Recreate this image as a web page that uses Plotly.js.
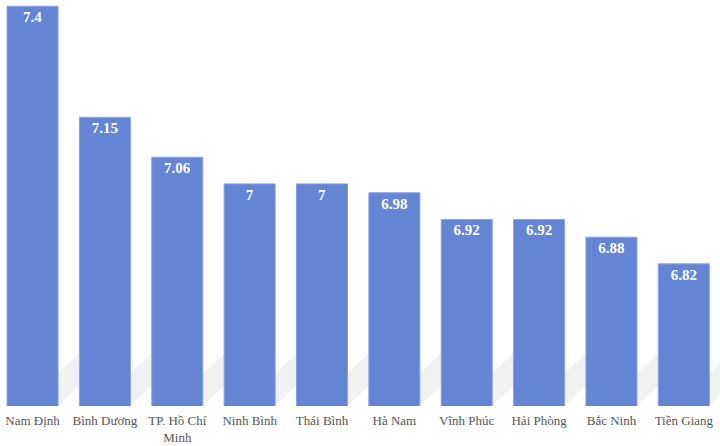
<!DOCTYPE html>
<html>
<head>
<meta charset="utf-8">
<script src="https://cdn.plot.ly/plotly-3.0.1.min.js"></script>
<style>html,body{margin:0;padding:0;background:#fff;}#chart{width:720px;height:446px;}</style>
</head>
<body>
<div id="chart"></div>
<script>
const provinces = ["Nam Định", "Bình Dương", "TP. Hồ Chí<br>Minh", "Ninh Bình", "Thái Bình", "Hà Nam", "Vĩnh Phúc", "Hải Phòng", "Bắc Ninh", "Tiền Giang"];
const scores = [7.4, 7.15, 7.06, 7, 7, 6.98, 6.92, 6.92, 6.88, 6.82];
const scoreLabels = ["7.4", "7.15", "7.06", "7", "7", "6.98", "6.92", "6.92", "6.88", "6.82"];

const serif = 'Liberation Serif';

// decorative grey floor shadow between bars (paper y, category x offsets)
const shapes = [];
for (let i = 0; i < provinces.length; i++) {
  const x0 = i + 0.35, x1 = i + 0.65;
  shapes.push({
    type: 'path', xref: 'x', yref: 'paper', layer: 'below',
    path: `M ${x0},0.0 L ${x0},0.08 L ${x1},0.13 L ${x1},0.05 Z`,
    fillcolor: 'rgba(210,210,210,0.3)', line: {width: 0}
  });
}

const trace = {
  type: 'bar',
  x: provinces,
  y: scores,
  text: scoreLabels,
  textposition: 'inside',
  insidetextanchor: 'end',
  textangle: 0,
  textfont: {family: serif, size: 15, color: '#ffffff', weight: 'bold'},
  marker: {color: '#6485d4', line: {color: '#86a2ea', width: 1}},
  hoverinfo: 'skip',
  cliponaxis: false
};

const layout = {
  width: 720, height: 446,
  margin: {l: 0, r: 0, t: 0, b: 40},
  paper_bgcolor: '#ffffff', plot_bgcolor: '#ffffff',
  bargap: 0.295,
  showlegend: false,
  shapes: shapes,
  font: {family: serif},
  xaxis: {
    type: 'category', range: [-0.45, 9.5], showgrid: false, zeroline: false, showline: false,
    ticks: '', tickfont: {family: serif, size: 13, color: '#555555'},
    ticklabelstandoff: 5
  },
  yaxis: {range: [6.5, 7.414], visible: false, showgrid: false, zeroline: false}
};

Plotly.newPlot('chart', [trace], layout, {displayModeBar: false, staticPlot: true});
</script>
</body>
</html>
